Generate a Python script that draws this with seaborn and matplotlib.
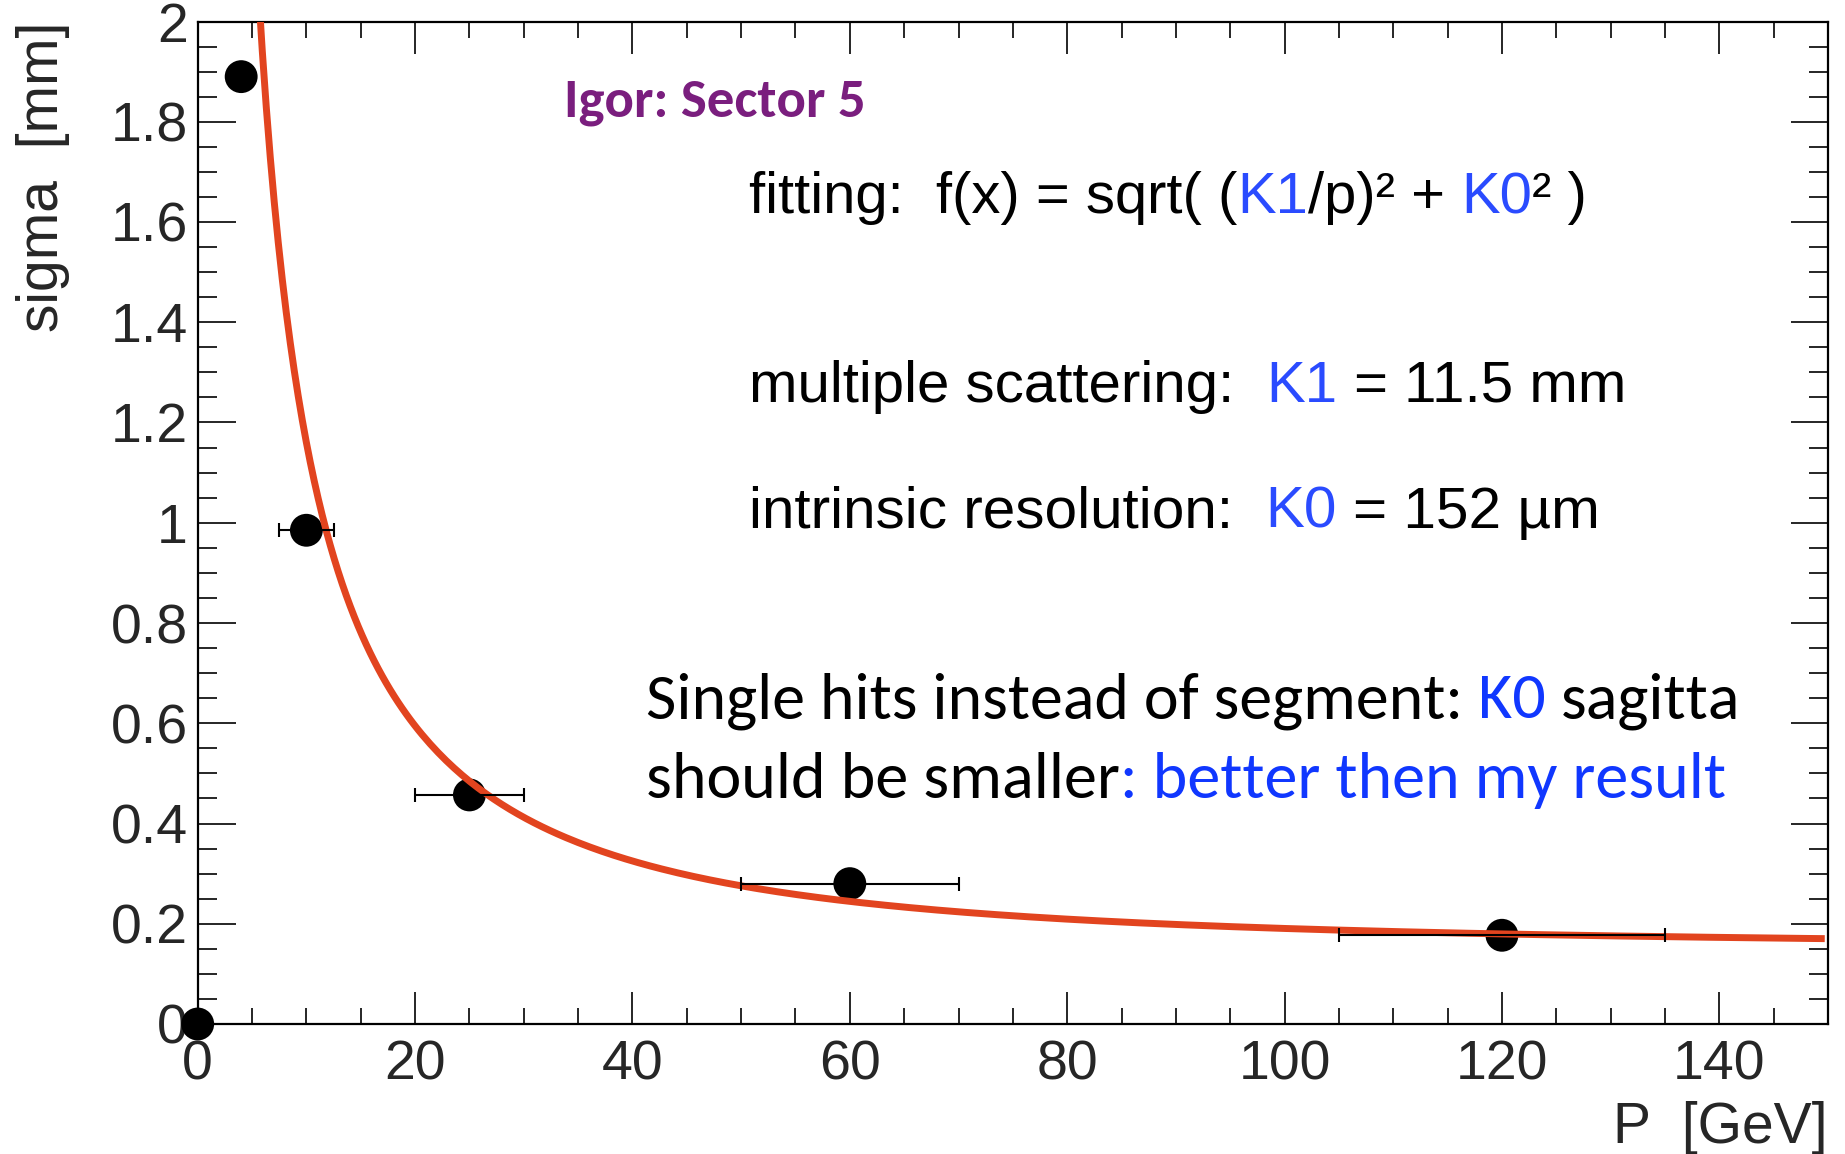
import numpy as np
import pandas as pd
import matplotlib
matplotlib.use("Agg")
import matplotlib.pyplot as plt
from matplotlib.ticker import MultipleLocator, FuncFormatter
from matplotlib.font_manager import FontProperties, fontManager
import seaborn as sns

# Measured resolution versus momentum
momentum = [0, 4, 10, 25, 60, 120]
sigma = [0.0, 1.89, 0.985, 0.457, 0.28, 0.177]
momentum_err = [0, 0, 2.5, 5, 10, 15]

# Fit parameters: sigma(p) = sqrt((K1/p)^2 + K0^2)
K1 = 11.5     # mm * GeV, multiple scattering term
K0 = 0.152    # mm, intrinsic resolution

x_range = [0, 150]
y_range = [0, 2]

W, H = 1845, 1154
sns.set_style("white")
plt.rcParams["font.family"] = ["Liberation Sans", "DejaVu Sans"]

fig = plt.figure(figsize=(W / 100, H / 100), dpi=100)
ax = fig.add_axes([197.7 / W, 1 - 1024 / H, (1828 - 197.7) / W, (1024 - 21.5) / H])

df = pd.DataFrame({"p": momentum, "sigma": sigma, "perr": momentum_err})

# data points
sns.scatterplot(data=df, x="p", y="sigma", ax=ax, color="black", s=560,
                edgecolor="none", zorder=3, clip_on=False, legend=False)

# fitted curve
p_fit = np.linspace(3.0, 149.7, 400)
fit = pd.DataFrame({"p": p_fit, "sigma": np.sqrt((K1 / p_fit) ** 2 + K0 ** 2)})
sns.lineplot(data=fit, x="p", y="sigma", ax=ax, color="#E2441F", lw=5.0,
             sort=False, estimator=None, zorder=4, solid_capstyle="butt")

# horizontal error bars
with_err = df[df["perr"] > 0]
ax.errorbar(with_err["p"], with_err["sigma"], xerr=with_err["perr"], fmt="none",
            ecolor="black", elinewidth=1.5, capsize=5, capthick=1.5, zorder=5)

ax.set_xlim(*x_range)
ax.set_ylim(*y_range)
ax.xaxis.set_major_locator(MultipleLocator(20))
ax.xaxis.set_minor_locator(MultipleLocator(5))
ax.yaxis.set_major_locator(MultipleLocator(0.2))
ax.yaxis.set_minor_locator(MultipleLocator(0.05))
fmt = FuncFormatter(lambda v, pos: f"{v:g}")
ax.xaxis.set_major_formatter(fmt)
ax.yaxis.set_major_formatter(fmt)

ax.tick_params(axis="x", which="major", direction="in", length=23, width=1.4,
               top=True, bottom=True, labelsize=40, pad=11)
ax.tick_params(axis="x", which="minor", direction="in", length=11.5, width=1.4,
               top=True, bottom=True)
ax.tick_params(axis="y", which="major", direction="in", length=27, width=1.4,
               left=True, right=True, labelsize=40, pad=7)
ax.tick_params(axis="y", which="minor", direction="in", length=13.7, width=1.4,
               left=True, right=True)
for sp in ax.spines.values():
    sp.set_linewidth(1.6)
    sp.set_color("black")

ax.set_ylabel("sigma  [mm]", fontsize=41, loc="top")
ax.yaxis.set_label_coords((70 - 197.7) / (1828 - 197.7), 1.0)
ax.set_xlabel("P  [GeV]", fontsize=41, loc="right")
ax.xaxis.label.set_va("baseline")
ax.xaxis.set_label_coords(1.0, (1024 - 1143) / (1024 - 21.5))

# annotation lines, each made of coloured runs
renderer = fig.canvas.get_renderer()
installed = {f.name for f in fontManager.ttflist}


def width_of(s, prop):
    w, h, d = renderer.get_text_width_height_descent(s, prop, ismath=False)
    return w


def draw_line(runs, left, right, base, family, weight="normal", size0=40):
    full = "".join(t for t, _ in runs)
    prop = FontProperties(family=family, weight=weight, size=size0)
    size = size0 * (right - left) / width_of(full, prop)
    prop = FontProperties(family=family, weight=weight, size=size)
    ref = width_of("I", prop)
    prefix = ""
    for text, color in runs:
        lead = len(text) - len(text.lstrip())
        prefix += text[:lead]
        body = text[lead:]
        off = width_of(prefix + "I", prop) - ref if prefix else 0.0
        fig.text((left + off) / W, 1 - base / H, body, fontproperties=prop,
                 color=color, va="baseline", ha="left")
        prefix += body


BLUE = "#2A4BFF"
BLUE2 = "#1037FF"
helv = ["Liberation Sans", "DejaVu Sans"]
cal = [f for f in ["Carlito", "Lato"] if f in installed] + ["DejaVu Sans"]

draw_line([("Igor: Sector 5", "#7A1E7E")], 564, 865, 116, cal, weight="bold")
draw_line([("fitting:  f(x) = sqrt( (", "black"), ("K1", BLUE), ("/p)\u00b2 + ", "black"),
           ("K0", BLUE), ("\u00b2 )", "black")], 749, 1586, 213, helv)
draw_line([("multiple scattering:  ", "black"), ("K1", BLUE), (" = 11.5 mm", "black")],
          749, 1626, 402, helv)
draw_line([("intrinsic resolution:  ", "black"), ("K0", BLUE), (" = 152 \u00b5m", "black")],
          749, 1600, 528, helv)
draw_line([("Single hits instead of segment: ", "black"), ("K0", BLUE2), (" sagitta", "black")],
          646, 1739, 718, cal)
draw_line([("should be smaller", "black"), (": better then my result", BLUE2)],
          646, 1724, 798, cal)

fig.savefig("out.png", dpi=100)
